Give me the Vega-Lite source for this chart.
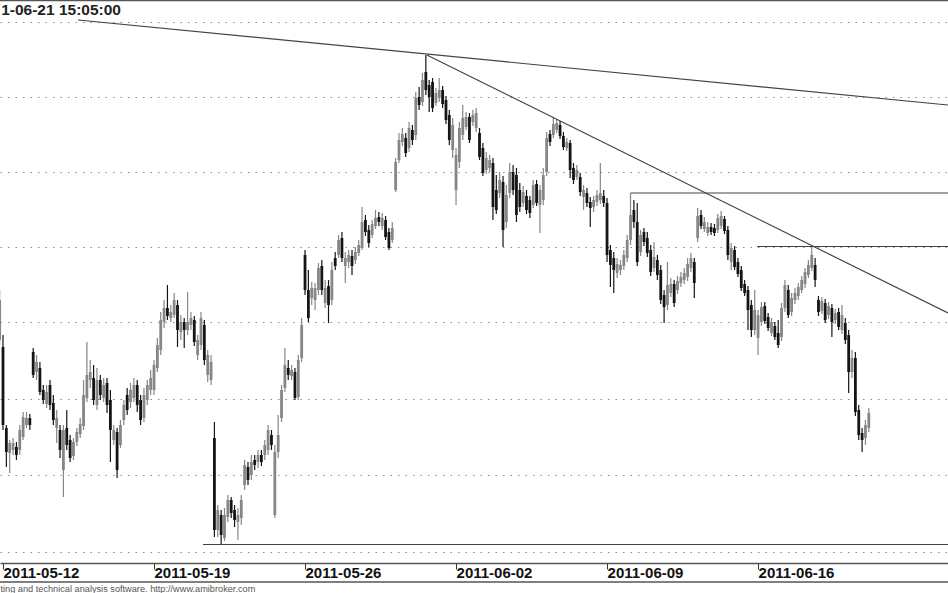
{
"$schema": "https://vega.github.io/schema/vega-lite/v6.json",
"width": 948, "height": 563,
"autosize": "none",
"padding": {"left": 0, "top": 0, "right": 0, "bottom": 30},
"background": "white",
"config": {"view": {"stroke": null}, "font": "Liberation Sans"},
"datasets": {
"bars": [
{"i":-1,"o":660,"h":710,"l":655,"c":700},{"i":0,"o":653,"h":665,"l":570,"c":575},{"i":1,"o":572,"h":575,"l":533,"c":548},{"i":2,"o":547,"h":560,"l":527,"c":557},{"i":3,"o":550,"h":562,"l":545,"c":557},{"i":4,"o":553,"h":558,"l":540,"c":545},{"i":5,"o":550,"h":575,"l":545,"c":570},{"i":6,"o":563,"h":588,"l":560,"c":583},{"i":7,"o":575,"h":588,"l":572,"c":582},{"i":8,"o":582,"h":586,"l":570,"c":575},
{"i":9,"o":648,"h":652,"l":622,"c":625},{"i":10,"o":628,"h":645,"l":620,"c":638},{"i":11,"o":632,"h":638,"l":605,"c":608},{"i":12,"o":610,"h":615,"l":596,"c":600},{"i":13,"o":596,"h":615,"l":592,"c":608},{"i":14,"o":615,"h":620,"l":590,"c":595},{"i":15,"o":597,"h":605,"l":575,"c":580},{"i":16,"o":572,"h":590,"l":557,"c":582},{"i":17,"o":570,"h":575,"l":542,"c":550},
{"i":18,"o":530,"h":575,"l":503,"c":570},{"i":19,"o":572,"h":590,"l":550,"c":555},{"i":20,"o":560,"h":565,"l":538,"c":542},{"i":21,"o":544,"h":562,"l":540,"c":558},{"i":22,"o":558,"h":572,"l":554,"c":568},{"i":23,"o":566,"h":582,"l":562,"c":576},{"i":24,"o":574,"h":620,"l":570,"c":605},{"i":25,"o":602,"h":658,"l":598,"c":625},{"i":26,"o":620,"h":640,"l":612,"c":628},
{"i":27,"o":622,"h":635,"l":595,"c":600},{"i":28,"o":595,"h":632,"l":590,"c":620},{"i":29,"o":620,"h":625,"l":600,"c":605},{"i":30,"o":602,"h":622,"l":598,"c":615},{"i":31,"o":617,"h":622,"l":587,"c":595},{"i":32,"o":600,"h":610,"l":538,"c":570},{"i":33,"o":560,"h":575,"l":555,"c":570},{"i":34,"o":568,"h":572,"l":522,"c":530},{"i":35,"o":555,"h":580,"l":552,"c":575},
{"i":36,"o":580,"h":600,"l":575,"c":595},{"i":37,"o":605,"h":612,"l":585,"c":590},{"i":38,"o":598,"h":617,"l":592,"c":610},{"i":39,"o":602,"h":622,"l":598,"c":615},{"i":40,"o":615,"h":620,"l":588,"c":595},{"i":41,"o":600,"h":605,"l":575,"c":580},{"i":42,"o":582,"h":612,"l":578,"c":605},{"i":43,"o":600,"h":620,"l":595,"c":615},{"i":44,"o":610,"h":630,"l":605,"c":622},
{"i":45,"o":610,"h":640,"l":605,"c":635},{"i":46,"o":632,"h":662,"l":628,"c":655},{"i":47,"o":650,"h":688,"l":645,"c":680},{"i":48,"o":678,"h":700,"l":672,"c":692},{"i":49,"o":692,"h":715,"l":680,"c":684},{"i":50,"o":682,"h":695,"l":678,"c":688},{"i":51,"o":685,"h":707,"l":682,"c":700},{"i":52,"o":695,"h":700,"l":653,"c":670},{"i":53,"o":668,"h":685,"l":660,"c":678},
{"i":54,"o":678,"h":682,"l":652,"c":670},{"i":55,"o":670,"h":708,"l":665,"c":678},{"i":56,"o":675,"h":688,"l":670,"c":682},{"i":57,"o":680,"h":684,"l":654,"c":658},{"i":58,"o":645,"h":665,"l":640,"c":660},{"i":59,"o":655,"h":688,"l":650,"c":682},{"i":60,"o":675,"h":680,"l":635,"c":640},{"i":61,"o":625,"h":650,"l":618,"c":645},{"i":62,"o":620,"h":645,"l":615,"c":638},
{"i":63,"o":562,"h":578,"l":463,"c":470},{"i":64,"o":470,"h":495,"l":463,"c":490},{"i":65,"o":485,"h":490,"l":455,"c":465},{"i":66,"o":462,"h":492,"l":459,"c":485},{"i":67,"o":483,"h":505,"l":478,"c":500},{"i":68,"o":500,"h":503,"l":482,"c":487},{"i":69,"o":490,"h":495,"l":473,"c":480},{"i":70,"o":478,"h":492,"l":460,"c":485},{"i":71,"o":482,"h":505,"l":475,"c":500},
{"i":72,"o":515,"h":540,"l":510,"c":535},{"i":73,"o":533,"h":538,"l":515,"c":520},{"i":74,"o":525,"h":545,"l":520,"c":538},{"i":75,"o":540,"h":545,"l":530,"c":535},{"i":76,"o":538,"h":550,"l":532,"c":545},{"i":77,"o":545,"h":550,"l":534,"c":538},{"i":78,"o":545,"h":560,"l":540,"c":555},{"i":79,"o":550,"h":575,"l":545,"c":570},{"i":80,"o":565,"h":570,"l":550,"c":555},
{"i":81,"o":485,"h":555,"l":482,"c":548},{"i":82,"o":548,"h":585,"l":542,"c":565},{"i":83,"o":582,"h":615,"l":578,"c":610},{"i":84,"o":612,"h":652,"l":608,"c":635},{"i":85,"o":632,"h":640,"l":620,"c":625},{"i":86,"o":624,"h":635,"l":620,"c":630},{"i":87,"o":628,"h":632,"l":600,"c":602},{"i":88,"o":603,"h":645,"l":600,"c":640},{"i":89,"o":642,"h":682,"l":638,"c":675},
{"i":90,"o":745,"h":750,"l":705,"c":710},{"i":91,"o":710,"h":730,"l":678,"c":682},{"i":92,"o":702,"h":718,"l":695,"c":712},{"i":93,"o":700,"h":717,"l":690,"c":712},{"i":94,"o":710,"h":737,"l":705,"c":732},{"i":95,"o":734,"h":740,"l":705,"c":710},{"i":96,"o":697,"h":720,"l":692,"c":712},{"i":97,"o":714,"h":720,"l":677,"c":695},{"i":98,"o":700,"h":738,"l":695,"c":730},
{"i":99,"o":742,"h":748,"l":730,"c":734},{"i":100,"o":745,"h":765,"l":742,"c":760},{"i":101,"o":762,"h":768,"l":738,"c":742},{"i":102,"o":734,"h":748,"l":717,"c":742},{"i":103,"o":738,"h":750,"l":732,"c":745},{"i":104,"o":744,"h":750,"l":725,"c":734},{"i":105,"o":740,"h":753,"l":736,"c":748},{"i":106,"o":747,"h":760,"l":744,"c":755},{"i":107,"o":752,"h":793,"l":750,"c":778},
{"i":108,"o":780,"h":785,"l":764,"c":768},{"i":109,"o":770,"h":775,"l":753,"c":757},{"i":110,"o":765,"h":780,"l":762,"c":776},{"i":111,"o":774,"h":790,"l":771,"c":782},{"i":112,"o":783,"h":788,"l":774,"c":778},{"i":113,"o":774,"h":787,"l":770,"c":782},{"i":114,"o":780,"h":784,"l":760,"c":763},{"i":115,"o":768,"h":772,"l":750,"c":752},{"i":116,"o":760,"h":778,"l":757,"c":772},
{"i":117,"o":810,"h":842,"l":808,"c":838},{"i":118,"o":840,"h":867,"l":837,"c":860},{"i":119,"o":858,"h":872,"l":854,"c":866},{"i":120,"o":862,"h":867,"l":843,"c":847},{"i":121,"o":852,"h":878,"l":848,"c":872},{"i":122,"o":870,"h":875,"l":855,"c":860},{"i":123,"o":865,"h":908,"l":860,"c":902},{"i":124,"o":903,"h":913,"l":890,"c":895},{"i":125,"o":898,"h":927,"l":894,"c":920},
{"i":126,"o":928,"h":945,"l":905,"c":910},{"i":127,"o":915,"h":920,"l":888,"c":903},{"i":128,"o":918,"h":922,"l":888,"c":892},{"i":129,"o":897,"h":912,"l":894,"c":907},{"i":130,"o":902,"h":922,"l":898,"c":910},{"i":131,"o":910,"h":914,"l":892,"c":896},{"i":132,"o":900,"h":904,"l":876,"c":880},{"i":133,"o":885,"h":890,"l":855,"c":860},{"i":134,"o":850,"h":882,"l":842,"c":875},
{"i":135,"o":810,"h":852,"l":795,"c":845},{"i":136,"o":838,"h":878,"l":832,"c":872},{"i":137,"o":865,"h":895,"l":860,"c":882},{"i":138,"o":873,"h":888,"l":870,"c":883},{"i":139,"o":883,"h":887,"l":857,"c":860},{"i":140,"o":878,"h":890,"l":874,"c":885},{"i":141,"o":872,"h":892,"l":868,"c":887},{"i":142,"o":867,"h":872,"l":840,"c":843},{"i":143,"o":852,"h":857,"l":824,"c":827},
{"i":144,"o":830,"h":848,"l":826,"c":842},{"i":145,"o":832,"h":845,"l":828,"c":840},{"i":146,"o":837,"h":842,"l":780,"c":793},{"i":147,"o":810,"h":825,"l":786,"c":790},{"i":148,"o":807,"h":828,"l":802,"c":820},{"i":149,"o":818,"h":824,"l":753,"c":770},{"i":150,"o":778,"h":815,"l":772,"c":805},{"i":151,"o":807,"h":837,"l":802,"c":828},{"i":152,"o":828,"h":835,"l":805,"c":810},
{"i":153,"o":825,"h":832,"l":778,"c":785},{"i":154,"o":810,"h":817,"l":788,"c":793},{"i":155,"o":797,"h":814,"l":793,"c":808},{"i":156,"o":804,"h":810,"l":786,"c":790},{"i":157,"o":800,"h":804,"l":782,"c":787},{"i":158,"o":795,"h":820,"l":792,"c":815},{"i":159,"o":816,"h":820,"l":794,"c":797},{"i":160,"o":795,"h":815,"l":767,"c":810},{"i":161,"o":800,"h":832,"l":795,"c":825},
{"i":162,"o":828,"h":868,"l":824,"c":862},{"i":163,"o":866,"h":870,"l":854,"c":858},{"i":164,"o":865,"h":883,"l":862,"c":876},{"i":165,"o":870,"h":881,"l":867,"c":877},{"i":166,"o":875,"h":879,"l":861,"c":864},{"i":167,"o":864,"h":868,"l":850,"c":853},{"i":168,"o":852,"h":862,"l":849,"c":858},{"i":169,"o":857,"h":860,"l":822,"c":830},{"i":170,"o":832,"h":837,"l":816,"c":820},
{"i":171,"o":823,"h":835,"l":820,"c":830},{"i":172,"o":823,"h":827,"l":804,"c":808},{"i":173,"o":803,"h":815,"l":790,"c":810},{"i":174,"o":807,"h":812,"l":793,"c":797},{"i":175,"o":798,"h":803,"l":773,"c":792},{"i":176,"o":793,"h":804,"l":788,"c":800},{"i":177,"o":798,"h":810,"l":794,"c":805},{"i":178,"o":800,"h":837,"l":796,"c":807},{"i":179,"o":804,"h":810,"l":793,"c":797},
{"i":180,"o":797,"h":802,"l":738,"c":745},{"i":181,"o":750,"h":755,"l":713,"c":735},{"i":182,"o":742,"h":748,"l":707,"c":730},{"i":183,"o":727,"h":742,"l":722,"c":736},{"i":184,"o":730,"h":740,"l":725,"c":735},{"i":185,"o":734,"h":750,"l":730,"c":745},{"i":186,"o":742,"h":765,"l":738,"c":760},{"i":187,"o":760,"h":807,"l":755,"c":785},{"i":188,"o":790,"h":800,"l":772,"c":778},
{"i":189,"o":778,"h":797,"l":734,"c":738},{"i":190,"o":748,"h":770,"l":744,"c":765},{"i":191,"o":768,"h":772,"l":754,"c":758},{"i":192,"o":762,"h":768,"l":743,"c":747},{"i":193,"o":750,"h":755,"l":724,"c":728},{"i":194,"o":732,"h":758,"l":728,"c":743},{"i":195,"o":740,"h":745,"l":720,"c":725},{"i":196,"o":730,"h":735,"l":696,"c":700},{"i":197,"o":705,"h":710,"l":677,"c":693},
{"i":198,"o":695,"h":738,"l":690,"c":715},{"i":199,"o":707,"h":722,"l":703,"c":716},{"i":200,"o":716,"h":720,"l":693,"c":697},{"i":201,"o":710,"h":724,"l":706,"c":719},{"i":202,"o":717,"h":728,"l":713,"c":723},{"i":203,"o":720,"h":732,"l":716,"c":727},{"i":204,"o":723,"h":742,"l":719,"c":736},{"i":205,"o":732,"h":747,"l":728,"c":742},{"i":206,"o":738,"h":742,"l":702,"c":717},
{"i":207,"o":762,"h":792,"l":758,"c":784},{"i":208,"o":785,"h":790,"l":771,"c":774},{"i":209,"o":771,"h":783,"l":768,"c":778},{"i":210,"o":767,"h":778,"l":764,"c":773},{"i":211,"o":773,"h":777,"l":765,"c":768},{"i":212,"o":772,"h":776,"l":764,"c":767},{"i":213,"o":770,"h":786,"l":767,"c":782},{"i":214,"o":774,"h":789,"l":771,"c":784},{"i":215,"o":781,"h":784,"l":766,"c":769},
{"i":216,"o":770,"h":774,"l":740,"c":745},{"i":217,"o":738,"h":757,"l":730,"c":752},{"i":218,"o":750,"h":754,"l":730,"c":733},{"i":219,"o":738,"h":742,"l":723,"c":726},{"i":220,"o":730,"h":734,"l":709,"c":712},{"i":221,"o":716,"h":720,"l":704,"c":707},{"i":222,"o":710,"h":714,"l":670,"c":690},{"i":223,"o":695,"h":700,"l":663,"c":670},{"i":224,"o":670,"h":710,"l":665,"c":690},
{"i":225,"o":662,"h":690,"l":645,"c":685},{"i":226,"o":678,"h":698,"l":674,"c":693},{"i":227,"o":694,"h":698,"l":676,"c":679},{"i":228,"o":683,"h":687,"l":669,"c":672},{"i":229,"o":667,"h":682,"l":664,"c":678},{"i":230,"o":674,"h":678,"l":660,"c":663},{"i":231,"o":667,"h":680,"l":652,"c":655},{"i":232,"o":663,"h":697,"l":659,"c":692},{"i":233,"o":692,"h":720,"l":688,"c":715},
{"i":234,"o":710,"h":715,"l":682,"c":685},{"i":235,"o":688,"h":707,"l":684,"c":702},{"i":236,"o":700,"h":712,"l":696,"c":707},{"i":237,"o":704,"h":717,"l":700,"c":713},{"i":238,"o":710,"h":724,"l":707,"c":720},{"i":239,"o":716,"h":732,"l":712,"c":728},{"i":240,"o":725,"h":740,"l":722,"c":735},{"i":241,"o":732,"h":754,"l":729,"c":745},{"i":242,"o":735,"h":742,"l":713,"c":720},
{"i":243,"o":700,"h":704,"l":684,"c":688},{"i":244,"o":689,"h":703,"l":686,"c":699},{"i":245,"o":697,"h":701,"l":677,"c":680},{"i":246,"o":685,"h":698,"l":681,"c":694},{"i":247,"o":692,"h":696,"l":663,"c":678},{"i":248,"o":680,"h":691,"l":676,"c":687},{"i":249,"o":688,"h":692,"l":670,"c":673},{"i":250,"o":670,"h":695,"l":666,"c":685},{"i":251,"o":677,"h":682,"l":656,"c":660},
{"i":252,"o":665,"h":670,"l":607,"c":628},{"i":253,"o":628,"h":650,"l":622,"c":642},{"i":254,"o":642,"h":648,"l":584,"c":588},{"i":255,"o":590,"h":595,"l":560,"c":565},{"i":256,"o":567,"h":572,"l":548,"c":560},{"i":257,"o":562,"h":580,"l":555,"c":575},{"i":258,"o":572,"h":592,"l":568,"c":587}
],
"lines": [
{"i1":22.35,"v1":980,"i2":281.6,"v2":895},
{"i1":126.3,"v1":945,"i2":281.6,"v2":687},
{"i1":187,"v1":807,"i2":281.6,"v2":807},
{"i1":224.7,"v1":753.5,"i2":281.6,"v2":753.5},
{"i1":59.6,"v1":455.5,"i2":281.6,"v2":455.5}
]
},
"layer": [
{
"data": {"name": "bars"},
"mark": {"type": "rule", "strokeWidth": 1.2},
"encoding": {
"x": {"field": "i", "type": "quantitative",
"scale": {"domain": [-0.894, 281.6], "nice": false, "zero": false, "padding": 0},
"axis": {"values": [0, 45, 90, 135, 180, 225],
"labelExpr": "['2011-05-12','2011-05-19','2011-05-26','2011-06-02','2011-06-09','2011-06-16'][round(datum.value/45)]",
"grid": false, "domainColor": "#555555", "domainWidth": 1.5,
"tickColor": "#333333", "tickSize": 6, "tickWidth": 1,
"labelFont": "Liberation Sans", "labelFontWeight": "bold", "labelFontSize": 15, "labelColor": "#111111",
"labelAlign": "left", "labelBaseline": "alphabetic", "labelPadding": 8, "labelDx": 3,
"labelFlush": false, "labelOverlap": false, "labelBound": false,
"title": "ting and technical analysis software. http://www.amibroker.com",
"titleX": 0, "titleY": 28, "titleAlign": "left", "titleAnchor": null, "titleBaseline": "alphabetic",
"titleFont": "Liberation Sans", "titleFontSize": 9.2, "titleFontWeight": "normal", "titleColor": "#555555"}},
"y": {"field": "l", "type": "quantitative",
"scale": {"domain": [437, 1000], "nice": false, "zero": false},
"axis": {"values": [978.3, 903.3, 828.3, 753.5, 678.5, 601.5, 525, 448], "grid": true, "labels": false, "ticks": false, "domain": false, "title": null,
"gridColor": "#8a8a8a", "gridDash": [1.5, 6], "gridWidth": 1.2}},
"y2": {"field": "h"},
"color": {"condition": {"test": "datum.c < datum.o", "value": "#151515"}, "value": "#868686"}
}
},
{
"data": {"name": "bars"},
"mark": {"type": "bar", "width": 2.8},
"encoding": {
"x": {"field": "i", "type": "quantitative", "scale": {"domain": [-0.894, 281.6], "nice": false, "zero": false, "padding": 0}},
"y": {"field": "o", "type": "quantitative", "scale": {"domain": [437, 1000], "nice": false, "zero": false}},
"y2": {"field": "c"},
"color": {"condition": {"test": "datum.c < datum.o", "value": "#151515"}, "value": "#868686"}
}
},
{
"data": {"name": "lines"},
"mark": {"type": "rule", "color": "#444444", "strokeWidth": 1.2, "clip": true},
"encoding": {
"x": {"field": "i1", "type": "quantitative"},
"x2": {"field": "i2"},
"y": {"field": "v1", "type": "quantitative"},
"y2": {"field": "v2"}
}
},
{
"data": {"values": [{"edge": "top"}]},
"mark": {"type": "rule", "color": "#555555", "strokeWidth": 1.5},
"encoding": {"y": {"datum": 999.5}}
},
{
"data": {"values": [{"edge": "strip"}]},
"mark": {"type": "rule", "color": "#555555", "strokeWidth": 1.5},
"encoding": {"y": {"datum": 418}}
},
{
"data": {"values": [{"label": "1-06-21 15:05:00"}]},
"mark": {"type": "text", "align": "left", "baseline": "alphabetic", "font": "Liberation Sans", "fontWeight": "bold", "fontSize": 15.5, "color": "#222222"},
"encoding": {
"x": {"datum": -0.55},
"y": {"datum": 985},
"text": {"field": "label"}
}
}
]
}
